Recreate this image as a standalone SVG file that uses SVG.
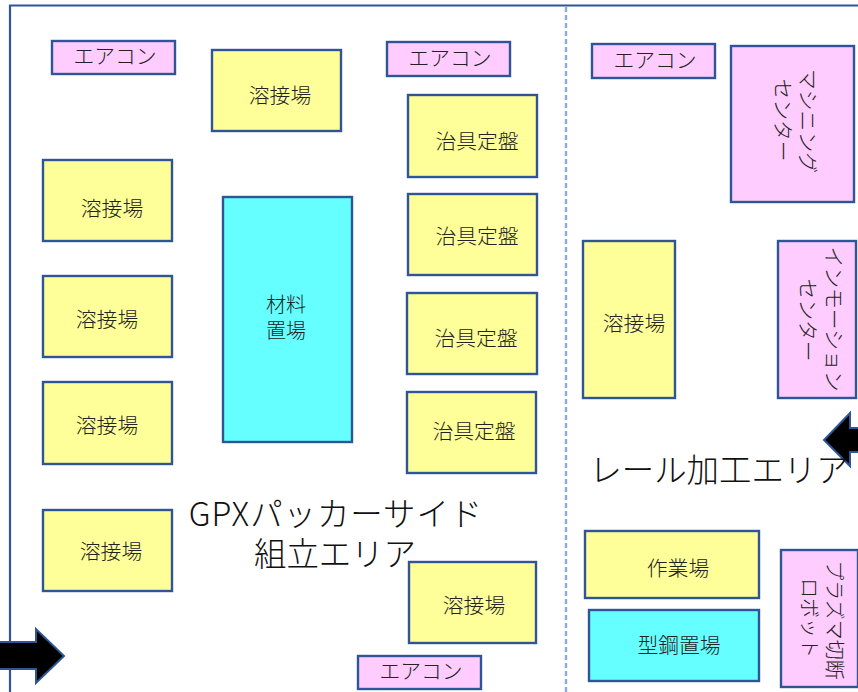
<svg xmlns="http://www.w3.org/2000/svg" width="858" height="692" viewBox="0 0 858 692">
<style>
text{font-family:"Noto Sans CJK JP","Noto Sans CJK SC",sans-serif;font-weight:300;fill:#222;font-size:20.8px;text-anchor:middle}
.b{stroke:#2f5597;stroke-width:2.400}
.y{fill:#ffff99}.p{fill:#ffccff}.c{fill:#66ffff}
.big{font-size:32.400px;font-weight:300;fill:#111}
.a{fill:#000;stroke:#2f5597;stroke-width:2}
</style>
<rect width="858" height="692" fill="#fff"/>
<g id="frame" fill="none">
<path d="M10 692V5.500H858" stroke="#2f5597" stroke-width="2.200"/>
<path d="M566 7V692" stroke="#8faadc" stroke-width="2.400" stroke-dasharray="5 3"/>
</g>
<g id="connectors"></g>
<g id="ac1"><rect class="b p" x="52" y="41" width="123" height="33"/><text x="115" y="64">エアコン</text></g>
<g id="ac2"><rect class="b p" x="387" y="42" width="123" height="34"/><text x="450" y="66">エアコン</text></g>
<g id="ac3"><rect class="b p" x="592" y="44" width="123" height="34"/><text x="655" y="68">エアコン</text></g>
<g id="ac4"><rect class="b p" x="358" y="656" width="123" height="33"/><text x="421" y="679">エアコン</text></g>
<g id="w1"><rect class="b y" x="212" y="50" width="129" height="81"/><text x="280" y="103">溶接場</text></g>
<g id="w2"><rect class="b y" x="43" y="160" width="129" height="81"/><text x="112" y="216">溶接場</text></g>
<g id="w3"><rect class="b y" x="43" y="276" width="129" height="81"/><text x="107" y="327">溶接場</text></g>
<g id="w4"><rect class="b y" x="43" y="382" width="129" height="82"/><text x="107" y="433">溶接場</text></g>
<g id="w5"><rect class="b y" x="43" y="510" width="129" height="81"/><text x="111" y="559">溶接場</text></g>
<g id="w6"><rect class="b y" x="409" y="562" width="127" height="81"/><text x="474" y="613">溶接場</text></g>
<g id="w7"><rect class="b y" x="583" y="241" width="92" height="157"/><text x="634" y="331">溶接場</text></g>
<g id="mat"><rect class="b c" x="223" y="197" width="129" height="245"/><text x="286" y="312" style="font-size:20px">材料</text><text x="286" y="338" style="font-size:20px">置場</text></g>
<g id="j1"><rect class="b y" x="408" y="95" width="129" height="82"/><text x="477" y="149">治具定盤</text></g>
<g id="j2"><rect class="b y" x="408" y="194" width="129" height="81"/><text x="477" y="244">治具定盤</text></g>
<g id="j3"><rect class="b y" x="407" y="293" width="130" height="81"/><text x="476" y="346">治具定盤</text></g>
<g id="j4"><rect class="b y" x="407" y="392" width="129" height="81"/><text x="474" y="439">治具定盤</text></g>
<g id="mc"><rect class="b p" x="731" y="46" width="123" height="156"/><text transform="translate(807 121) rotate(90)" y="7">マシニング</text><text transform="translate(782 120) rotate(90)" y="7">センター</text></g>
<g id="im"><rect class="b p" x="778" y="241" width="78" height="157"/><text transform="translate(833 319) rotate(90)" y="7">インモーション</text><text transform="translate(807 320) rotate(90)" y="7">センター</text></g>
<g id="work"><rect class="b y" x="585" y="531" width="174" height="67"/><text x="678" y="576">作業場</text></g>
<g id="steel"><rect class="b c" x="589" y="610" width="170" height="71"/><text x="679" y="653">型鋼置場</text></g>
<g id="plasma"><rect class="b p" x="781" y="550" width="77" height="137"/><text transform="translate(834 620) rotate(90)" y="7" style="font-size:20px">プラズマ切断</text><text transform="translate(809 618) rotate(90)" y="7" style="font-size:20px">ロボット</text></g>
<g id="arrows">
<path class="a" d="M-2 642H36V629L64 656L36 683V669H-2Z"/>
<path class="a" d="M860 428H850V413L824 440L850 466V452H860Z"/>
</g>
<g id="labels">
<text class="big" x="336" y="526" style="letter-spacing:1px">GPXパッカーサイド</text>
<text class="big" x="335" y="566">組立エリア</text>
<text class="big" x="719" y="482">レール加工エリア</text>
</g>
</svg>
